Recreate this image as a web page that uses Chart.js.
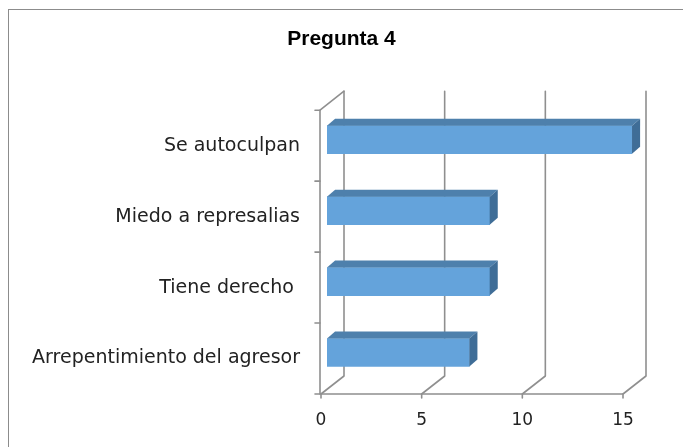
<!DOCTYPE html>
<html>
<head>
<meta charset="utf-8">
<script src="https://cdn.jsdelivr.net/npm/chart.js@4/dist/chart.umd.min.js"></script>
<style>
  html, body { margin: 0; padding: 0; background: #fff; }
  canvas { display: block; }
</style>
</head>
<body>
<canvas id="chart" width="683" height="447"></canvas>
<script>
const categories = ["Se autoculpan", "Miedo a represalias", "Tiene derecho ", "Arrepentimiento del agresor"];
const values = [15, 8, 8, 7];
const xTicks = [0, 5, 10, 15];

// 3D look (Excel style walls + bar faces)
const wallDX = 23, wallDY = -18;
const barShiftX = 6, barShiftY = -6, barStretch = 1.01;
const barDX = 8, barDY = -7;
const lineColor = "#8f8f8f";

const fake3d = {
    id: "fake3d",
    beforeDraw(chart) {
        const ctx = chart.ctx;
        ctx.save();
        ctx.fillStyle = "#fff";
        ctx.fillRect(0, 0, chart.width, chart.height);
        ctx.strokeStyle = "#8c8c8c";
        ctx.lineWidth = 1;
        ctx.strokeRect(8.5, 9.5, 900, 900);
        ctx.restore();
    },
    beforeDatasetsDraw(chart) {
        const ctx = chart.ctx;
        const area = chart.chartArea;
        const xs = chart.scales.x;
        const ys = chart.scales.y;
        ctx.save();
        ctx.strokeStyle = lineColor;
        ctx.lineWidth = 1.6;
        ctx.lineCap = "round";
        ctx.lineJoin = "round";

        // left wall
        const lx = xs.getPixelForValue(0) - 1;
        ctx.beginPath();
        ctx.moveTo(lx, area.bottom);
        ctx.lineTo(lx, area.top);
        ctx.lineTo(lx + wallDX + 1, area.top + wallDY - 1);
        ctx.stroke();

        // floor front edge
        ctx.beginPath();
        ctx.moveTo(xs.getPixelForValue(xTicks[0]), area.bottom);
        ctx.lineTo(xs.getPixelForValue(xTicks[xTicks.length - 1]), area.bottom);
        ctx.stroke();

        // floor diagonals + back wall gridlines
        xTicks.forEach(v => {
            const px = xs.getPixelForValue(v);
            ctx.beginPath();
            ctx.moveTo(px, area.bottom + 4);
            ctx.lineTo(px, area.bottom);
            ctx.lineTo(px + wallDX, area.bottom + wallDY);
            ctx.lineTo(px + wallDX, area.top + wallDY - 1);
            ctx.stroke();
        });

        // category tick marks on left wall
        for (let i = 0; i <= categories.length; i++) {
            const py = ys.getPixelForValue(i - 0.5);
            ctx.beginPath();
            ctx.moveTo(lx - 5, py);
            ctx.lineTo(lx, py);
            ctx.stroke();
        }
        ctx.restore();

        // bars sit a little behind the front plane
        const x0 = xs.getPixelForValue(0);
        ctx.save();
        ctx.translate(x0 + barShiftX, barShiftY);
        ctx.scale(barStretch, 1);
        ctx.translate(-x0, 0);
    },
    afterDatasetsDraw(chart) {
        const ctx = chart.ctx;
        const meta = chart.getDatasetMeta(0);
        meta.data.forEach(bar => {
            const top = bar.y - bar.height / 2;
            const bottom = bar.y + bar.height / 2;
            const x0 = bar.base, x1 = bar.x;
            // top face
            ctx.fillStyle = "#4e80ac";
            ctx.beginPath();
            ctx.moveTo(x0, top);
            ctx.lineTo(x0 + barDX, top + barDY);
            ctx.lineTo(x1 + barDX, top + barDY);
            ctx.lineTo(x1, top);
            ctx.closePath();
            ctx.fill();
            // side face
            ctx.fillStyle = "#3f6d97";
            ctx.beginPath();
            ctx.moveTo(x1, top);
            ctx.lineTo(x1 + barDX, top + barDY);
            ctx.lineTo(x1 + barDX, bottom + barDY);
            ctx.lineTo(x1, bottom);
            ctx.closePath();
            ctx.fill();
        });
        ctx.restore();
    }
};

new Chart(document.getElementById("chart"), {
    type: "bar",
    data: {
        labels: categories,
        datasets: [{
            label: "Pregunta 4",
            data: values,
            backgroundColor: "#64a3db",
            borderWidth: 0,
            barThickness: 28
        }]
    },
    options: {
        indexAxis: "y",
        responsive: false,
        animation: false,
        layout: { padding: 0 },
        plugins: {
            legend: { display: false },
            tooltip: { enabled: false },
            title: {
                display: true,
                text: "Pregunta 4",
                color: "#000",
                font: { family: "Liberation Sans", size: 21, weight: "bold" },
                padding: { top: 27, bottom: 58 }
            }
        },
        scales: {
            x: {
                min: 0,
                max: 15,
                afterBuildTicks: scale => { scale.ticks = xTicks.map(v => ({ value: v })); },
                afterFit: scale => { scale.height = 53; },
                grid: { display: false, drawTicks: false },
                border: { display: false },
                ticks: {
                    color: "#222",
                    padding: 16,
                    maxRotation: 0,
                    font: { family: "DejaVu Sans", size: 17 }
                }
            },
            y: {
                afterFit: scale => { scale.width = 321; },
                grid: { display: false, drawTicks: false },
                border: { display: false },
                ticks: {
                    color: "#222",
                    padding: 21,
                    font: { family: "DejaVu Sans", size: 19 }
                }
            },
            // empty right-hand axis, only reserves room for the depth
            yRight: {
                type: "category",
                position: "right",
                afterFit: scale => { scale.width = 60; },
                grid: { display: false, drawTicks: false },
                border: { display: false },
                ticks: { display: false }
            }
        }
    },
    plugins: [fake3d]
});
</script>
</body>
</html>
